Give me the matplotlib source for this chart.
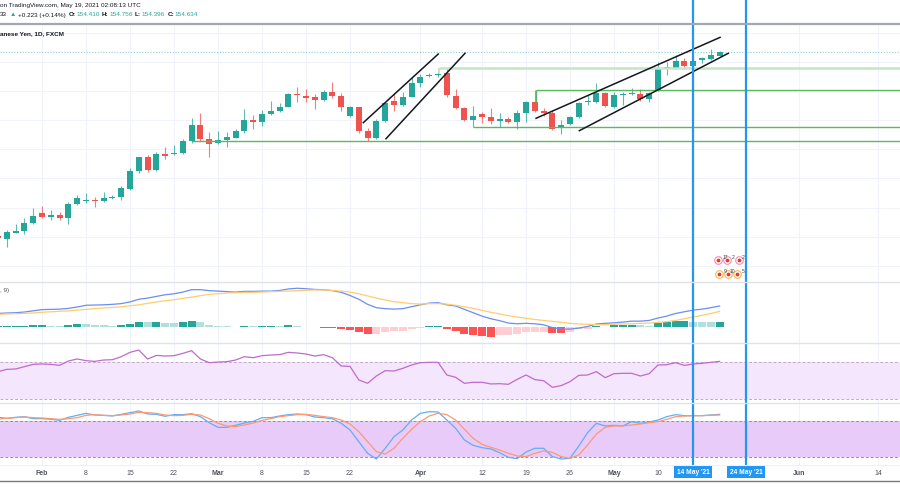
import matplotlib
matplotlib.use('Agg')
import matplotlib.pyplot as plt
from matplotlib.lines import Line2D

plt.rcParams['font.family'] = ['Liberation Sans', 'DejaVu Sans']

W, H = 900, 500

# daily candles, index 0 = Mon 25 Jan 2021 (weekdays only)
opens = [142.05, 141.86, 142.27, 142.37, 142.94, 143.62, 143.35, 143.46, 143.30, 144.24,
         144.42, 144.51, 144.47, 144.63, 144.70, 145.27, 146.48, 147.44, 146.57, 147.65,
         147.67, 147.74, 148.56, 149.66, 148.70, 148.40, 148.63, 148.79, 149.27, 150.00,
         149.89, 150.43, 150.64, 150.91, 151.80, 151.65, 151.55, 151.37, 151.94, 151.65,
         150.28, 150.87, 149.24, 148.74, 149.93, 151.33, 151.01, 151.60, 152.51, 153.02,
         153.08, 153.20, 151.67, 150.85, 150.00, 150.39, 150.21, 149.95, 150.05, 149.89,
         150.46, 151.24, 150.62, 150.50, 149.43, 149.71, 150.19, 151.22, 151.24, 151.83,
         150.87, 151.70, 151.76, 151.76, 151.46, 152.06, 153.52, 153.59, 154.05, 153.73,
         154.12, 154.21, 154.410]
highs = [142.30, 142.46, 142.89, 143.26, 143.94, 144.10, 143.81, 143.67, 144.38, 144.88,
         144.97, 144.74, 145.04, 144.88, 145.50, 146.69, 147.49, 147.58, 147.81, 148.17,
         148.29, 148.67, 150.11, 150.46, 149.20, 149.27, 149.20, 149.36, 150.76, 150.34,
         150.69, 151.30, 151.14, 151.88, 152.29, 152.15, 151.76, 152.06, 152.58, 151.83,
         150.96, 150.92, 149.43, 150.05, 151.21, 151.88, 151.94, 152.93, 153.13, 153.20,
         153.30, 153.54, 152.11, 150.91, 150.96, 150.57, 150.80, 150.46, 150.23, 150.69,
         151.33, 152.06, 150.82, 150.69, 150.00, 150.30, 151.24, 151.72, 152.52, 151.94,
         151.94, 151.94, 152.22, 152.11, 151.94, 154.00, 154.00, 154.46, 154.23, 154.23,
         154.34, 154.85, 154.756]
lows = [141.70, 141.31, 142.23, 142.18, 142.87, 143.28, 143.12, 143.14, 142.85, 144.17,
        144.33, 144.06, 144.38, 144.56, 144.51, 145.20, 146.39, 146.46, 146.53, 147.30,
        147.60, 147.69, 148.40, 148.58, 147.44, 148.33, 148.12, 148.74, 149.09, 149.36,
        149.61, 150.37, 150.57, 150.87, 151.24, 151.24, 150.78, 151.33, 151.53, 150.60,
        150.23, 149.13, 148.56, 148.70, 149.86, 150.62, 150.96, 151.56, 152.29, 152.93,
        152.95, 151.60, 150.74, 149.95, 149.54, 149.78, 149.71, 149.54, 149.78, 149.38,
        149.89, 150.57, 150.28, 149.32, 149.04, 149.64, 150.12, 151.03, 151.19, 150.91,
        150.82, 151.03, 151.72, 151.33, 151.24, 152.01, 153.09, 153.52, 153.50, 153.55,
        153.89, 154.12, 154.396]
closes = [141.90, 142.32, 142.39, 142.94, 143.42, 143.33, 143.49, 143.30, 144.24, 144.65,
          144.51, 144.42, 144.65, 144.72, 145.36, 146.48, 147.44, 146.57, 147.65, 147.56,
          147.74, 148.56, 149.66, 148.70, 148.33, 148.63, 148.81, 149.27, 150.00, 149.89,
          150.41, 150.64, 150.91, 151.80, 151.69, 151.53, 151.37, 151.94, 151.65, 150.91,
          150.87, 149.24, 148.74, 149.93, 151.14, 151.03, 151.60, 152.51, 152.97, 153.11,
          153.15, 151.70, 150.80, 150.00, 150.26, 150.23, 149.93, 150.05, 149.89, 150.50,
          151.26, 150.64, 150.46, 149.38, 149.64, 150.19, 151.19, 151.30, 151.83, 150.96,
          151.72, 151.76, 151.83, 151.44, 151.83, 153.59, 153.62, 154.05, 153.73, 154.05,
          154.23, 154.46, 154.634]

# MACD (12, 26, close, 9)
macd = [0.58, 0.60, 0.61, 0.64, 0.69, 0.74, 0.75, 0.76, 0.79, 0.85,
        0.92, 0.93, 0.94, 0.96, 0.99, 1.06, 1.17, 1.22, 1.29, 1.36,
        1.40, 1.47, 1.57, 1.57, 1.53, 1.51, 1.49, 1.47, 1.50, 1.50,
        1.51, 1.51, 1.54, 1.60, 1.63, 1.61, 1.58, 1.57, 1.53, 1.46,
        1.33, 1.17, 0.96, 0.82, 0.78, 0.76, 0.78, 0.86, 0.94, 1.01,
        1.03, 0.94, 0.89, 0.75, 0.61, 0.47, 0.36, 0.28, 0.18, 0.15,
        0.17, 0.15, 0.11, -0.01, -0.07, -0.07, -0.03, 0.04, 0.14, 0.17,
        0.19, 0.22, 0.26, 0.26, 0.29, 0.39, 0.47, 0.58, 0.65, 0.72,
        0.76, 0.82, 0.89]
signal = [0.54, 0.56, 0.57, 0.58, 0.60, 0.63, 0.65, 0.67, 0.69, 0.72,
          0.75, 0.78, 0.81, 0.83, 0.86, 0.90, 0.94, 1.00, 1.06, 1.11,
          1.15, 1.21, 1.26, 1.32, 1.38, 1.40, 1.43, 1.44, 1.46, 1.46,
          1.47, 1.49, 1.50, 1.51, 1.53, 1.54, 1.56, 1.56, 1.54, 1.51,
          1.47, 1.40, 1.31, 1.22, 1.14, 1.07, 1.03, 0.99, 0.97, 0.99,
          0.99, 0.97, 0.92, 0.86, 0.79, 0.71, 0.63, 0.56, 0.49, 0.43,
          0.38, 0.33, 0.29, 0.25, 0.21, 0.17, 0.14, 0.13, 0.11, 0.11,
          0.13, 0.14, 0.15, 0.17, 0.18, 0.21, 0.24, 0.29, 0.36, 0.43,
          0.50, 0.58, 0.67]
hist = [0.04, 0.04, 0.04, 0.07, 0.10, 0.10, 0.07, 0.06, 0.10, 0.14,
        0.13, 0.11, 0.08, 0.07, 0.10, 0.14, 0.24, 0.21, 0.22, 0.19,
        0.18, 0.22, 0.26, 0.21, 0.11, 0.07, 0.04, 0.03, 0.07, 0.04,
        0.06, 0.06, 0.04, 0.08, 0.07, 0.03, 0.01, -0.01, -0.03, -0.08,
        -0.11, -0.21, -0.28, -0.26, -0.19, -0.17, -0.14, -0.08, -0.03, 0.04,
        0.06, -0.06, -0.13, -0.28, -0.32, -0.36, -0.39, -0.33, -0.32, -0.29,
        -0.21, -0.19, -0.18, -0.22, -0.22, -0.18, -0.08, -0.06, 0.04, 0.03,
        0.08, 0.08, 0.10, 0.08, 0.075, 0.17, 0.21, 0.26, 0.26, 0.24,
        0.22, 0.21, 0.21]

# RSI (14)
rsi = [59.9, 62.4, 62.8, 65.3, 67.8, 68.2, 67.8, 66.7, 71.4, 73.6,
       71.8, 71.0, 72.5, 72.8, 76.1, 80.8, 83.3, 73.6, 77.5, 76.8,
       77.2, 79.7, 82.6, 73.6, 69.6, 70.3, 70.7, 72.5, 76.1, 75.0,
       77.2, 77.9, 78.3, 80.8, 80.1, 79.0, 76.8, 78.3, 75.0, 66.0,
       65.6, 50.9, 47.3, 55.2, 61.0, 60.6, 63.5, 67.1, 69.6, 70.0,
       70.0, 56.3, 53.8, 47.3, 48.4, 48.4, 46.6, 46.9, 46.2, 51.6,
       56.3, 51.3, 50.1, 43.0, 44.8, 49.1, 55.9, 56.3, 59.9, 53.4,
       57.7, 58.1, 58.1, 55.2, 57.7, 67.1, 67.4, 69.6, 66.7, 68.2,
       68.9, 70.0, 71.0]

# Stochastic
stoch_k = [86.2, 84.5, 86.2, 87.3, 83.9, 83.9, 82.8, 81.1, 86.2, 89.5,
           92.9, 90.1, 89.5, 88.4, 91.2, 94.0, 96.8, 91.8, 91.2, 87.9,
           90.7, 90.7, 92.3, 87.3, 77.2, 69.3, 69.3, 72.7, 76.6, 79.4,
           85.6, 85.6, 88.4, 90.7, 91.8, 90.7, 86.7, 85.6, 83.9, 76.1,
           64.8, 45.2, 25.6, 16.0, 34.0, 53.6, 64.8, 81.7, 92.9, 95.7,
           95.2, 81.7, 67.7, 48.0, 39.0, 35.1, 32.9, 26.7, 18.8, 16.6,
           27.8, 34.0, 34.0, 20.0, 16.0, 17.1, 37.9, 60.4, 76.1, 71.6,
           72.7, 71.6, 78.9, 76.1, 78.3, 81.7, 87.3, 90.7, 89.0, 89.0,
           89.0, 90.1, 91.2]
stoch_d = [83.4, 84.5, 85.6, 86.7, 85.6, 85.1, 83.9, 82.8, 83.9, 85.6,
           89.5, 90.7, 89.5, 89.0, 90.1, 91.8, 94.6, 94.0, 92.9, 90.1,
           89.0, 89.5, 91.2, 90.1, 83.9, 76.1, 71.6, 70.5, 73.3, 76.6,
           81.1, 83.9, 87.3, 89.0, 90.7, 91.2, 89.5, 87.3, 85.6, 81.7,
           74.9, 62.0, 45.2, 28.4, 24.4, 34.0, 50.8, 66.0, 78.9, 88.4,
           92.9, 90.7, 81.7, 66.0, 50.8, 40.7, 35.7, 31.2, 25.6, 21.1,
           20.0, 25.6, 29.5, 27.2, 20.0, 17.1, 22.8, 39.6, 58.1, 69.3,
           71.6, 71.6, 73.3, 74.9, 77.2, 78.9, 82.8, 87.3, 88.4, 89.0,
           89.0, 89.5, 90.1]

tick_pos = [0, 5, 10, 15, 20, 25, 30, 35, 40, 48, 55, 60, 65, 70, 75, 91, 100]
tick_labels = ['25', 'Feb', '8', '15', '22', 'Mar', '8', '15', '22', 'Apr',
               '12', '19', '26', 'May', '10', 'Jun', '14']
marked_days = [79, 85]
marked_labels = ["14 May '21", "24 May '21"]

# drawn levels: price, first day
levels = [148.54, 149.54, 152.04]
level_start = [22.0, 54.0, 61.1]
top_level = 153.55
top_level_start = 50.1

# channel lines: (day0, price0, day1, price1)
channels = [(41.51, 149.82, 50.03, 154.53),
            (44.09, 148.72, 53.07, 154.58),
            (61.14, 150.12, 82.05, 155.67),
            (66.06, 149.27, 82.99, 154.58)]

UP, DOWN = '#26a69a', '#ef5350'
GRID = '#f0f3fa'
XLIM = (0.227, 102.5)


def box(top, bottom):
    return [0, 1 - bottom / H, 1, (bottom - top) / H]


fig = plt.figure(figsize=(W / 100, H / 100), dpi=100)
ax = fig.add_axes(box(25, 282))
ax_macd = fig.add_axes(box(282, 343), sharex=ax)
ax_rsi = fig.add_axes(box(343, 403), sharex=ax)
ax_sto = fig.add_axes(box(403, 465), sharex=ax)

for a in (ax, ax_macd, ax_rsi, ax_sto):
    for s in a.spines.values():
        s.set_visible(False)
    a.set_xticks(tick_pos)
    a.tick_params(length=0, labelleft=False, labelbottom=False)
    a.grid(axis='x', color=GRID, lw=0.8)
    a.set_axisbelow(True)
ax.set_xlim(*XLIM)

# ---- price pane
days = list(range(len(closes)))
for i in days:
    o, c = opens[i], closes[i]
    col = UP if c >= o else DOWN
    ax.vlines(i, lows[i], highs[i], color=col, lw=0.8, alpha=0.75)
    ax.bar(i, max(abs(c - o), 0.07), bottom=min(o, c), width=0.68, color=col, lw=0)
ax.set_ylim(138.89, 156.52)
ax.set_yticks(range(140, 158, 2))
ax.grid(axis='y', color=GRID, lw=0.8)
ax.axhline(closes[-1], color=UP, lw=0.8, ls=(0, (1, 1.5)), alpha=0.5)

for p, s in zip(levels, level_start):
    ax.hlines(p, s, XLIM[1], color='#5cb85c', lw=1.0)
ax.vlines(level_start[2], 151.26, levels[2], color='#5cb85c', lw=1.0)
ax.hlines(top_level, top_level_start, XLIM[1], color='#c5e5c6', lw=1.8)
ax.vlines(top_level_start, 153.22, top_level, color='#c5e5c6', lw=1.5)
for x0, y0, x1, y1 in channels:
    ax.plot([x0, x1], [y0, y1], color='#131722', lw=1.1)

# event markers
ev_x1 = [81.8, 82.8, 84.2]
ev_x2 = [81.9, 83.0, 84.0]
ax.scatter(ev_x1, [140.40] * 3, s=30, facecolor='white', edgecolor='#f48fb1', lw=0.8, zorder=5)
ax.scatter(ev_x2, [139.44] * 3, s=30, facecolor='white', edgecolor='#ffb74d', lw=0.8, zorder=5)
ax.scatter(ev_x1 + ev_x2, [140.40] * 3 + [139.44] * 3, s=3, color='#e53935', zorder=6)
for x, t in zip([82.6, 83.5, 84.7], ['17', '2', '2']):
    ax.text(x, 140.6, t, fontsize=3.6, color='#444', ha='center', va='center', zorder=7)
for x, t in zip([82.6, 83.5, 84.7], ['9', '10', '5']):
    ax.text(x, 139.64, t, fontsize=3.6, color='#444', ha='center', va='center', zorder=7)

ax.text(0, 0.965, 'anese Yen, 1D, FXCM', transform=ax.transAxes, fontsize=4.6,
        fontweight='bold', color='#131722', va='center', ha='left')

# ---- MACD pane
cols = []
for i, h in enumerate(hist):
    prev = hist[i - 1] if i else h
    if h >= 0:
        cols.append('#26a69a' if h >= prev else '#b2dfdb')
    else:
        cols.append('#ff5252' if h <= prev else '#ffcdd2')
ax_macd.bar(days, hist, width=0.9, color=cols, lw=0)
ax_macd.plot(days, macd, color='#6b8ff0', lw=0.9)
ax_macd.plot(days, signal, color='#ffcc70', lw=0.9)
ax_macd.set_ylim(-0.65, 1.89)
ax_macd.text(0, 0.86, ', 9)', transform=ax_macd.transAxes, fontsize=4.6,
             color='#50535e', va='center', ha='left')

# ---- RSI pane
ax_rsi.axhspan(30, 70, color='#f4e6fc', lw=0)
for lv in (30, 70):
    ax_rsi.axhline(lv, color='#c0aac8', lw=0.7, ls=(0, (3, 2)))
ax_rsi.plot(days, rsi, color='#c06acd', lw=0.9)
ax_rsi.set_ylim(26, 90.9)

# ---- Stochastic pane
ax_sto.axhspan(20, 80, color='#e9cbfa', lw=0)
for lv in (20, 80):
    ax_sto.axhline(lv, color='#a08aa8', lw=0.7, ls=(0, (3, 2)))
ax_sto.plot(days, stoch_k, color='#62aef5', lw=0.9)
ax_sto.plot(days, stoch_d, color='#fb9a72', lw=0.9)
ax_sto.set_ylim(5.9, 110.3)

ax_sto.tick_params(labelbottom=True, labelsize=5, labelcolor='#50535e', pad=3.5)
ax_sto.set_xticklabels(tick_labels)
for t in ax_sto.get_xticklabels():
    if not t.get_text().isdigit():
        t.set_fontweight('bold')

# ---- marked dates
ov = fig.add_axes(box(0, 466), sharex=ax)
ov.set_ylim(0, 1)
ov.axis('off')
ov.patch.set_alpha(0)
for d, lab in zip(marked_days, marked_labels):
    ov.axvline(d, color='#2196f3', lw=1.6)
    ax_sto.text(d, -0.115, lab, transform=ax_sto.get_xaxis_transform(), fontsize=4.8,
                fontweight='bold', color='white', ha='center', va='center', clip_on=False,
                bbox=dict(boxstyle='square,pad=0.35', fc='#2196f3', ec='none'), zorder=10)

# separators
for y, c, lw in [(23.5, '#a3a6af', 1.6), (282, '#e0e3eb', 1.0), (343, '#e0e3eb', 1.0),
                 (403, '#e0e3eb', 1.0), (465, '#eef0f4', 0.8), (481, '#787b86', 1.0)]:
    fig.add_artist(Line2D([0, 1], [1 - y / H] * 2, color=c, lw=lw))

# ---- header
fig.text(0, 1 - 6 / H, 'on TradingView.com, May 19, 2021 02:08:13 UTC', fontsize=4.6,
         color='#131722', va='center', ha='left')
fig.canvas.draw()
r = fig.canvas.get_renderer()
parts = [('33', '#131722'), ('\u25b2', UP), ('+0.223 (+0.14%)', '#131722'),
         ('O:', '#131722'), ('154.410', UP), ('H:', '#131722'), ('154.756', UP),
         ('L:', '#131722'), ('154.396', UP), ('C:', '#131722'), ('154.634', UP)]
x = 0
for s, c in parts:
    t = fig.text(x / W, 1 - 15 / H, s, fontsize=4.6, color=c, va='center', ha='left',
                 fontweight='bold' if s.endswith(':') else 'normal')
    bb = t.get_window_extent(renderer=r)
    x = bb.x1 + (0.5 if s.endswith(':') else 2.5)

fig.savefig('out.png', dpi=100, facecolor='white')
